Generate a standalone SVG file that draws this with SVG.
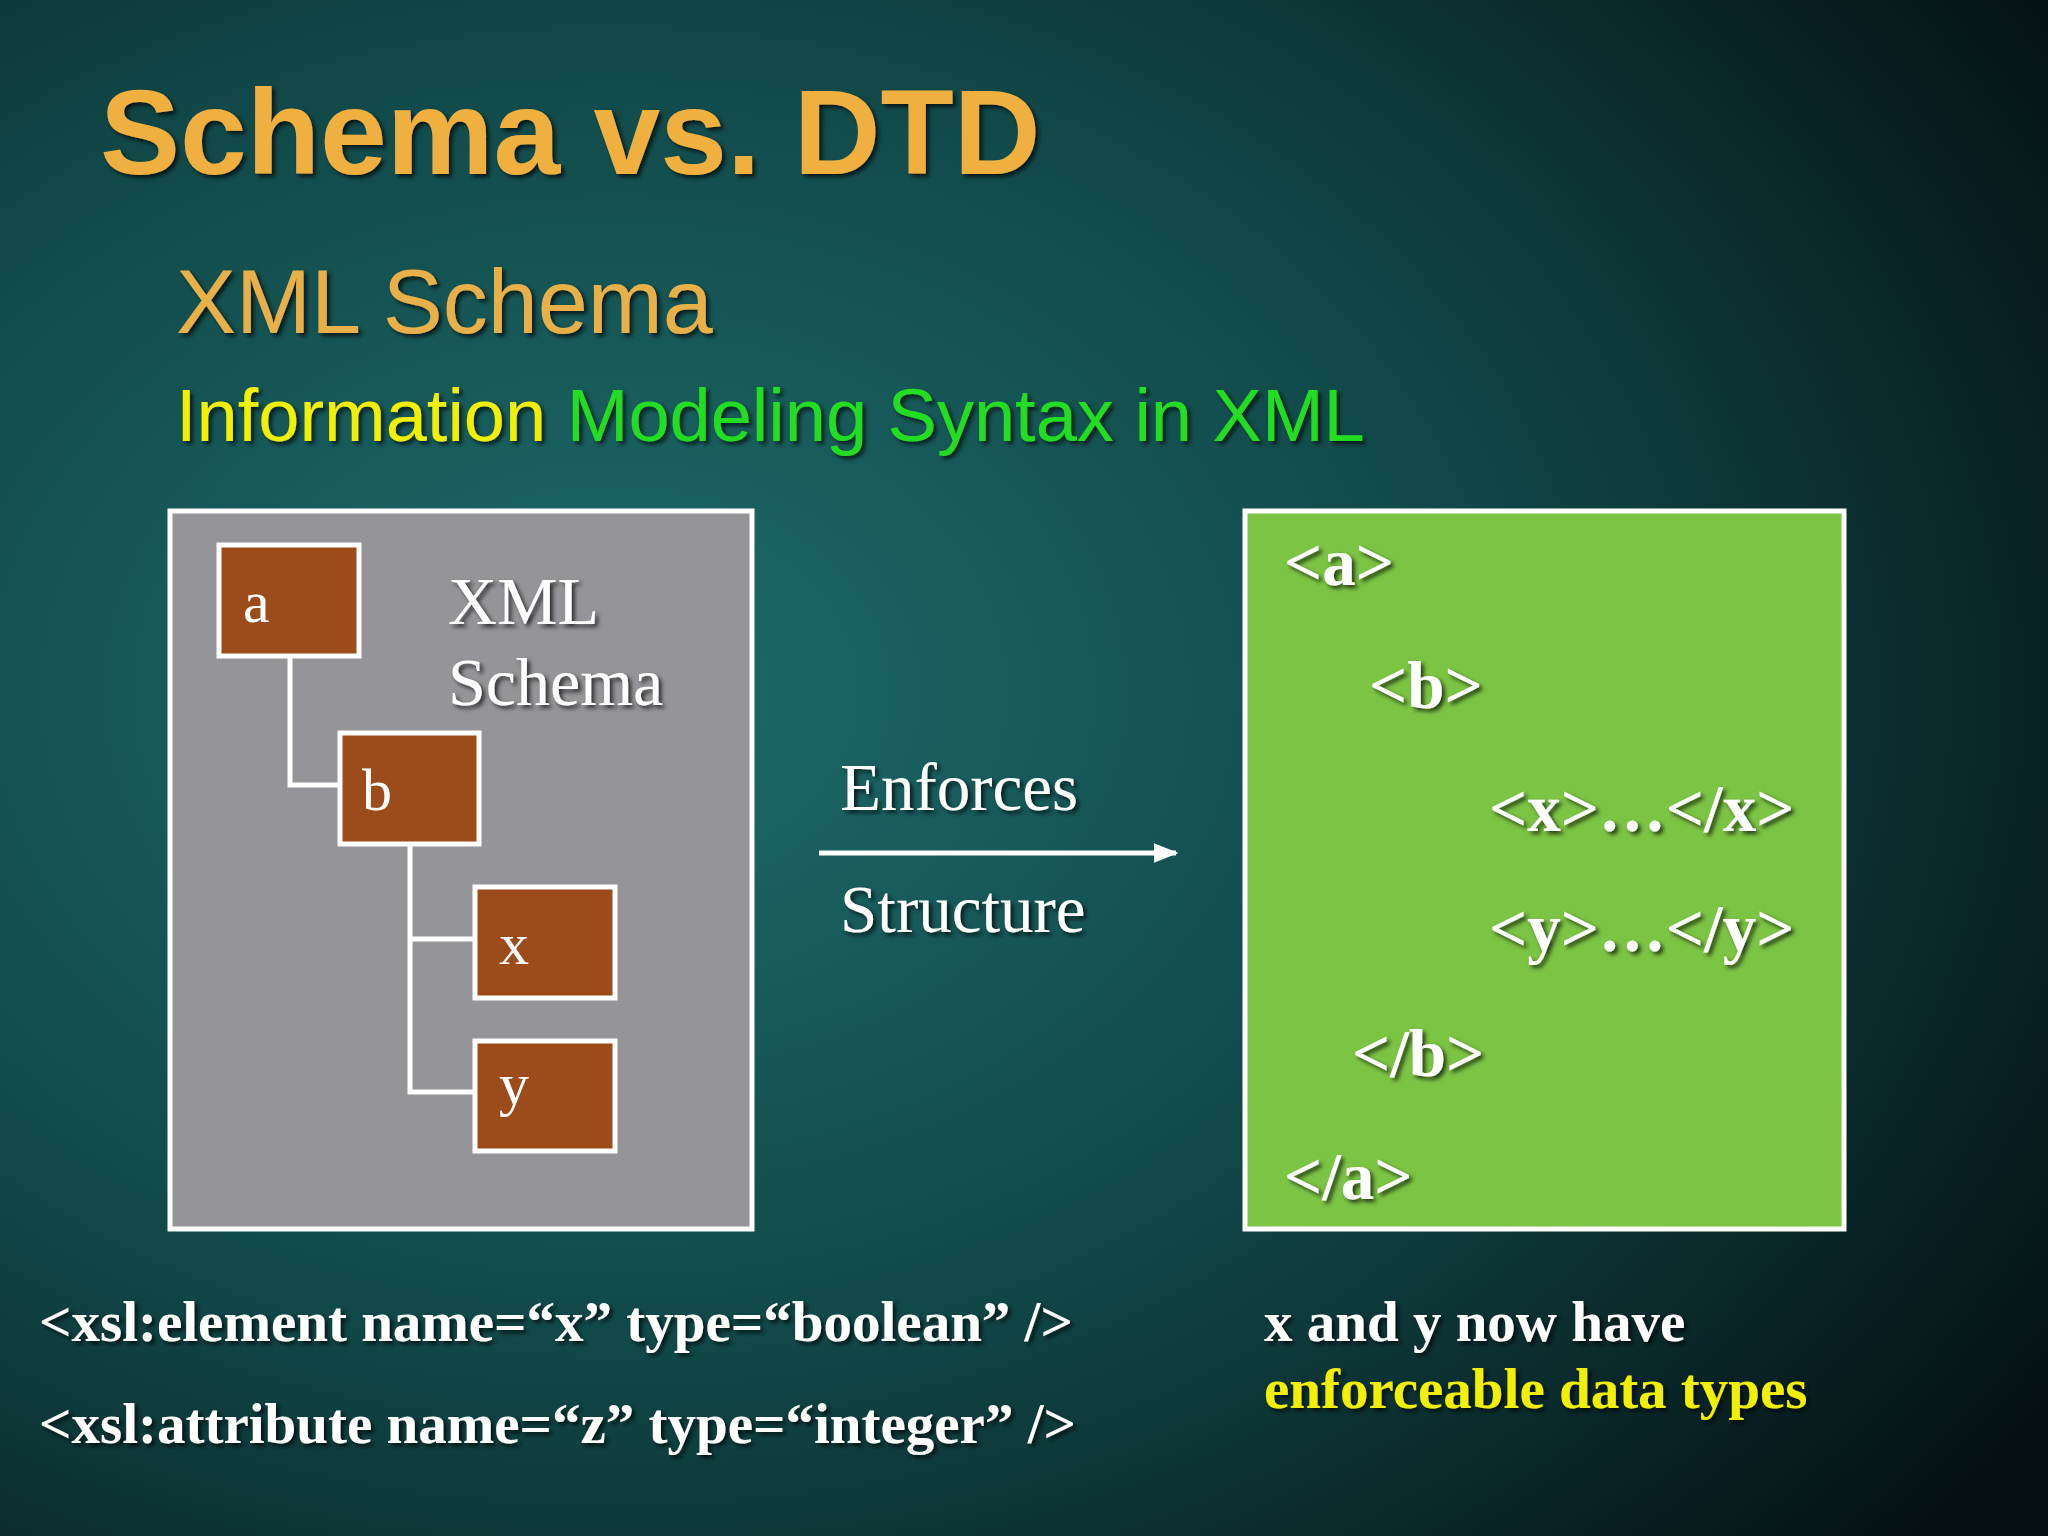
<svg xmlns="http://www.w3.org/2000/svg" width="2048" height="1536" viewBox="0 0 2048 1536">
<defs>
<radialGradient id="bg" cx="0.3" cy="0.45" r="0.85">
<stop offset="0" stop-color="#1e6b6b"/>
<stop offset="0.5" stop-color="#114848"/>
<stop offset="1" stop-color="#050f12"/>
</radialGradient>
<filter id="sh" x="-5%" y="-5%" width="110%" height="120%"><feDropShadow dx="3" dy="3" stdDeviation="2" flood-color="#000" flood-opacity="0.7"/></filter>
<marker id="ah" viewBox="0 0 10 10" refX="9" refY="5" markerWidth="5" markerHeight="5" orient="auto"><path d="M0,1 L10,5 L0,9 z" fill="#fff"/></marker>
</defs>
<style>
.ser{font-family:"Liberation Serif",serif;fill:#fff}
.node rect{fill:#9c4c1a;stroke:#fff;stroke-width:5}
.node text{font-family:"Liberation Serif",serif;fill:#fff;font-size:60px}
.code{font-family:"Liberation Serif",serif;font-weight:bold;fill:#fff;font-size:67px}
.bot{font-family:"Liberation Serif",serif;font-weight:bold;fill:#fff;font-size:57px}
</style>
<rect width="2048" height="1536" fill="url(#bg)"/>
<g filter="url(#sh)">
<text x="100" y="174" font-family="Liberation Sans,sans-serif" font-weight="bold" font-size="120" fill="#f0b040">Schema vs. DTD</text>
<text x="176" y="333" font-family="Liberation Sans,sans-serif" font-size="90" fill="#e8b048">XML Schema</text>
<text x="176" y="441" font-family="Liberation Sans,sans-serif" font-size="74"><tspan fill="#f0f000">Information </tspan><tspan fill="#22dd22">Modeling Syntax in XML</tspan></text>
</g>
<g id="schemaBox">
<rect x="170" y="511" width="582" height="718" fill="#959498" stroke="#fff" stroke-width="5"/>
<text class="ser" x="448" y="624" font-size="68" filter="url(#sh)">XML</text>
<text class="ser" x="448" y="705" font-size="68" filter="url(#sh)">Schema</text>
</g>
<g id="connectors" fill="none" stroke="#fff" stroke-width="5">
<path d="M290,656 V785 H340"/>
<path d="M410,844 V1092 H475 M410,939 H475"/>
<line x1="819" y1="853" x2="1176" y2="853" marker-end="url(#ah)"/>
</g>
<g id="a" class="node"><rect x="219" y="545" width="140" height="111"/><text x="243" y="622">a</text></g>
<g id="b" class="node"><rect x="340" y="733" width="139" height="111"/><text x="362" y="810">b</text></g>
<g id="x" class="node"><rect x="475" y="887" width="140" height="111"/><text x="499" y="964">x</text></g>
<g id="y" class="node"><rect x="475" y="1041" width="140" height="110"/><text x="499" y="1104">y</text></g>
<g id="labels" filter="url(#sh)">
<text class="ser" x="840" y="810" font-size="67">Enforces</text>
<text class="ser" x="840" y="932" font-size="67">Structure</text>
</g>
<g id="xmlBox">
<rect x="1245" y="511" width="599" height="718" fill="#7cc444" stroke="#fff" stroke-width="5"/>
<g filter="url(#sh)">
<text class="code" x="1284" y="585">&lt;a&gt;</text>
<text class="code" x="1369" y="708">&lt;b&gt;</text>
<text class="code" x="1489" y="831">&lt;x&gt;…&lt;/x&gt;</text>
<text class="code" x="1489" y="951">&lt;y&gt;…&lt;/y&gt;</text>
<text class="code" x="1352" y="1076">&lt;/b&gt;</text>
<text class="code" x="1284" y="1199">&lt;/a&gt;</text>
</g>
</g>
<g id="bottom" filter="url(#sh)">
<text class="bot" x="39" y="1341">&lt;xsl:element name=“x” type=“boolean” /&gt;</text>
<text class="bot" x="39" y="1443">&lt;xsl:attribute name=“z” type=“integer” /&gt;</text>
<text class="bot" x="1264" y="1341">x and y now have</text>
<text class="bot" x="1264" y="1408" style="fill:#f0f000">enforceable data types</text>
</g>
</svg>
